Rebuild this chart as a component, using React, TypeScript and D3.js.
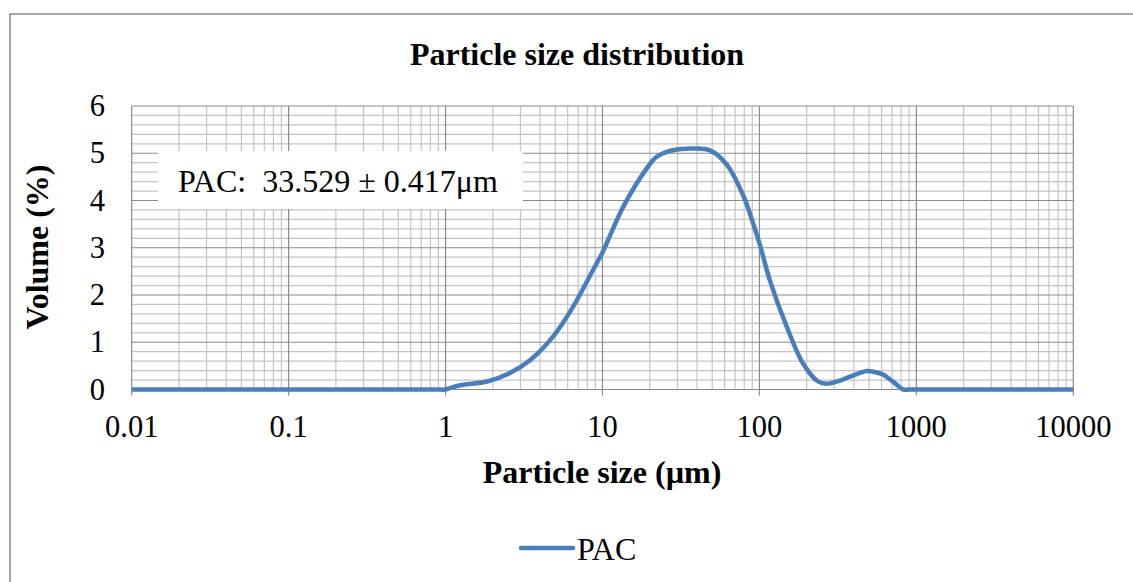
import React from "react";
import * as d3 from "d3";

// Particle size (µm) and volume (%) for the PAC sample
const sizes = [
  0.01, 0.03, 0.1, 0.3, 0.6, 0.9, 0.99, 1.116, 1.29, 1.84, 2.57, 3.45, 4.84,
  6.49, 8.7, 10.0, 13.57, 19.13, 22.0, 25.66, 32, 37.9, 48.4, 61.9, 79.0,
  88.4, 100.9, 116.8, 149.2, 189.6, 236.3, 268.4, 320, 377.7, 482.7, 543,
  615.7, 713.4, 826, 900, 1000, 3000, 10000,
];
const volumes = [
  0, 0, 0, 0, 0, 0, 0, 0.05, 0.1, 0.17, 0.35, 0.62, 1.12,
  1.75, 2.53, 2.9, 3.87, 4.68, 4.92, 5.03, 5.09, 5.1, 5.06, 4.76, 4.1,
  3.65, 3.05, 2.3, 1.33, 0.55, 0.17, 0.12, 0.18, 0.27, 0.39, 0.37,
  0.31, 0.16, 0, 0, 0, 0, 0,
];

const xTicks = [0.01, 0.1, 1, 10, 100, 1000, 10000];
const xTickLabels = ["0.01", "0.1", "1", "10", "100", "1000", "10000"];
const yTicks = [0, 1, 2, 3, 4, 5, 6];

const seriesName = "PAC";
const annotation = "PAC:  33.529 ± 0.417μm";
const title = "Particle size distribution";
const xTitle = "Particle size (µm)";
const yTitle = "Volume (%)";

const W = 1133;
const H = 582;
const left = 131.7;
const right = 1073.3;
const top = 106;
const bottom = 389.5;

const serif = "'Liberation Serif', 'Times New Roman', serif";
const lineColor = "#4a7ebb";

export default function App() {
  const x = d3.scaleLog().domain([0.01, 10000]).range([left, right]);
  const y = d3.scaleLinear().domain([0, 6]).range([bottom, top]);

  // Minor log grid: 2..9 within each decade
  const minorX: number[] = [];
  for (let e = -2; e < 4; e++) {
    for (let m = 2; m <= 9; m++) minorX.push(m * Math.pow(10, e));
  }
  // Minor value grid every 0.2
  const minorY = d3.range(0, 6.001, 0.2).filter((v) => Math.abs(v - Math.round(v)) > 1e-6);

  const pts = sizes.map((s, i) => [s, volumes[i]] as [number, number]);
  const line = d3
    .line<[number, number]>()
    .x((d) => x(d[0]))
    .y((d) => y(Math.max(0, d[1])))
    .curve(d3.curveCatmullRom.alpha(0.5));

  return (
    <svg
      width={W}
      height={H}
      style={{ position: "absolute", left: 0, top: 0, background: "#fff" }}
    >
      <rect x={0} y={0} width={W} height={H} fill="#fff" />
      {/* chart frame */}
      <path d={`M10,${H + 2} V14 H${W + 2}`} fill="none" stroke="#8c8c8c" strokeWidth={1.6} />

      <text
        x={577}
        y={65}
        textAnchor="middle"
        fontFamily={serif}
        fontWeight="bold"
        fontSize={32}
      >
        {title}
      </text>

      {/* grid */}
      <g>
        {minorY.map((v) => (
          <line key={"my" + v} x1={left} x2={right} y1={y(v)} y2={y(v)} stroke="#c4c4c4" strokeWidth={1.2} />
        ))}
        {minorX.map((v) => (
          <line key={"mx" + v} x1={x(v)} x2={x(v)} y1={top} y2={bottom} stroke="#c4c4c4" strokeWidth={1.2} />
        ))}
        {yTicks.map((v) => (
          <line key={"Y" + v} x1={left} x2={right} y1={y(v)} y2={y(v)} stroke="#8a8a8a" strokeWidth={1.2} />
        ))}
        {xTicks.map((v) => (
          <line key={"X" + v} x1={x(v)} x2={x(v)} y1={top} y2={bottom + 6} stroke="#8a8a8a" strokeWidth={1.2} />
        ))}
      </g>

      {/* annotation box */}
      <rect x={158} y={151} width={365} height={58} fill="#fff" />
      <text x={178} y={192} fontFamily={serif} fontSize={32} style={{ whiteSpace: "pre" }}>
        {annotation}
      </text>

      {/* series */}
      <path d={line(pts) || ""} fill="none" stroke={lineColor} strokeWidth={4.5} strokeLinejoin="round" />

      {/* y tick labels */}
      {yTicks.map((v) => (
        <text key={"yl" + v} x={105} y={y(v) + 10} textAnchor="end" fontFamily={serif} fontSize={30.5}>
          {v}
        </text>
      ))}
      {/* x tick labels */}
      {xTicks.map((v, i) => (
        <text key={"xl" + v} x={x(v)} y={437} textAnchor="middle" fontFamily={serif} fontSize={30.5}>
          {xTickLabels[i]}
        </text>
      ))}

      <text x={602} y={483} textAnchor="middle" fontFamily={serif} fontWeight="bold" fontSize={32}>
        {xTitle}
      </text>
      <text
        transform={`translate(48,247) rotate(-90)`}
        textAnchor="middle"
        fontFamily={serif}
        fontWeight="bold"
        fontSize={32}
      >
        {yTitle}
      </text>

      {/* legend */}
      <line x1={521} x2={573} y1={548} y2={548} stroke={lineColor} strokeWidth={4.5} strokeLinecap="round" />
      <text x={577} y={560} fontFamily={serif} fontSize={32}>
        {seriesName}
      </text>
    </svg>
  );
}
